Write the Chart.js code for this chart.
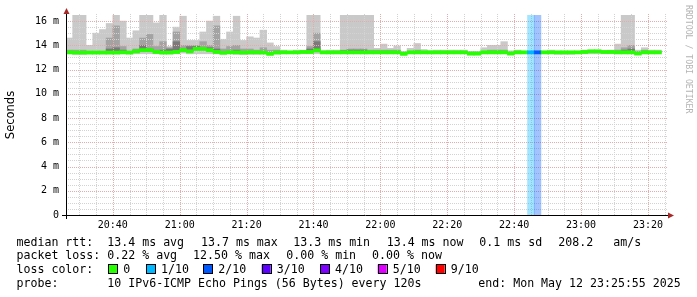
<!DOCTYPE html>
<html><head><meta charset="utf-8">
<script src="https://cdn.jsdelivr.net/npm/chart.js@4.4.1/dist/chart.umd.min.js"></script>
<style>html,body{margin:0;padding:0;background:#fff;overflow:hidden}canvas{display:block}</style>
</head><body>
<canvas id="c" width="697" height="297"></canvas>
<script>
// ---- data (milliseconds, one value per 2-minute step starting 20:26) ----
const startHour = 20, startMinute = 26, stepMinutes = 2, spanMinutes = 180;
const yMax = 16.5;

const maxRtt = [14.6,16.5,16.5,14.0,15.0,15.3,15.8,16.5,16.0,14.6,
 15.2,16.5,16.5,15.85,16.5,13.9,15.5,16.4,14.4,14.4,
 15.1,16.0,16.4,14.5,15.1,16.4,14.4,14.7,14.6,15.25,
 14.2,13.9,13.6,13.5,13.6,13.55,16.5,16.5,13.55,13.6,
 13.6,16.5,16.5,16.5,16.5,16.5,13.75,14.1,13.75,13.95,
 13.5,13.75,14.15,13.65,13.55,13.6,13.6,13.6,13.6,13.6,
 13.5,13.5,13.8,14.0,14.0,14.3,13.55,13.6,13.5,13.5,
 13.5,13.5,13.6,13.5,13.5,13.5,13.5,13.6,13.6,13.6,
 13.5,13.6,14.1,16.5,16.5,13.6,13.8,13.6,13.6];

const midRtt = [13.6,13.6,13.6,13.5,13.5,13.5,14.6,15.6,13.9,13.5,
 13.7,14.6,14.9,13.9,14.3,13.8,15.1,14.0,14.0,14.0,
 14.3,14.0,15.6,13.7,13.9,14.0,13.7,13.7,13.6,13.8,
 13.6,13.6,13.5,13.5,13.5,13.5,13.9,15.0,13.5,13.5,
 13.5,13.6,13.7,13.7,13.7,13.6,13.6,13.6,13.6,13.6,
 13.45,13.5,13.6,13.5,13.5,13.5,13.5,13.5,13.5,13.5,
 13.45,13.45,13.5,13.6,13.6,13.6,13.45,13.5,13.5,13.45,
 13.45,13.5,13.5,13.5,13.5,13.5,13.5,13.5,13.5,13.5,
 13.5,13.5,13.6,13.8,14.0,13.5,13.6,13.5,13.5];

const darkRtt = [null,null,null,null,null,null,13.7,13.8,13.6,null,
 13.6,14.0,13.7,null,13.6,13.7,14.3,13.7,13.9,13.9,
 13.8,13.8,13.7,null,null,13.6,null,null,null,null,
 null,null,null,null,null,null,13.7,14.3,null,null,
 null,13.55,13.6,13.6,13.6,null,null,null,null,null,
 null,null,null,null,null,null,null,null,null,null,
 null,null,null,null,null,null,null,null,null,null,
 null,null,null,null,null,null,null,null,null,null,
 null,null,null,13.6,13.7,null,null,null,null];

const minRtt = [13.3,13.25,13.25,13.3,13.3,13.3,13.3,13.3,13.3,13.3,
 13.3,13.3,13.3,13.3,13.3,13.3,13.3,13.35,13.3,13.3,
 13.3,13.3,13.3,13.3,13.3,13.25,13.25,13.25,13.25,13.3,
 13.2,13.3,13.3,13.3,13.3,13.3,13.3,13.3,13.3,13.3,
 13.3,13.3,13.3,13.3,13.3,13.3,13.3,13.3,13.3,13.3,
 13.2,13.3,13.3,13.3,13.3,13.3,13.3,13.3,13.3,13.3,
 13.2,13.2,13.3,13.3,13.3,13.3,13.2,13.3,13.3,13.3,
 13.3,13.3,13.3,13.25,13.25,13.25,13.3,13.3,13.3,13.3,
 13.3,13.3,13.3,13.3,13.3,13.2,13.3,13.3,13.3];

const medianRtt = [13.42,13.4,13.4,13.4,13.4,13.4,13.4,13.4,13.42,13.4,
 13.5,13.6,13.6,13.45,13.4,13.4,13.45,13.6,13.5,13.7,
 13.7,13.6,13.45,13.38,13.42,13.42,13.4,13.42,13.42,13.4,
 13.3,13.4,13.42,13.42,13.42,13.45,13.45,13.58,13.42,13.42,
 13.42,13.42,13.42,13.42,13.42,13.42,13.42,13.42,13.42,13.42,
 13.3,13.42,13.42,13.42,13.42,13.42,13.42,13.42,13.42,13.42,
 13.32,13.32,13.42,13.42,13.42,13.42,13.33,13.42,13.42,13.42,
 13.42,13.42,13.42,13.42,13.42,13.42,13.42,13.45,13.5,13.5,
 13.45,13.45,13.42,13.42,13.42,13.33,13.42,13.42,13.42];

const lossTenths = [0,0,0,0,0,0,0,0,0,0, 0,0,0,0,0,0,0,0,0,0,
 0,0,0,0,0,0,0,0,0,0, 0,0,0,0,0,0,0,0,0,0,
 0,0,0,0,0,0,0,0,0,0, 0,0,0,0,0,0,0,0,0,0,
 0,0,0,0,0,0,0,0,0,1, 2,0,0,0,0,0,0,0,0,0,
 0,0,0,0,0,0,0,0,0];

const lossLevels = [0,1,2,3,4,5,9];
const lossLabels = ['0','1/10','2/10','3/10','4/10','5/10','9/10'];
const lossColors = ['#26ff00','#00b8ff','#0059ff','#5e00ff','#7e00ff','#dd00ff','#ff0000'];

const yTickValues = [0,0.5,1,1.5,2,2.5,3,3.5,4,4.5,5,5.5,6,6.5,7,7.5,8,8.5,9,9.5,10,10.5,11,11.5,12,12.5,13,13.5,14,14.5,15,15.5,16];
const yTickLabels = ['0','2 m','4 m','6 m','8 m','10 m','12 m','14 m','16 m'];
const xTickLabels = ['20:40','21:00','21:20','21:40','22:00','22:20','22:40','23:00','23:20'];

const rttStats = ['13.4 ms avg','13.7 ms max','13.3 ms min','13.4 ms now','0.1 ms sd','208.2','am/s'];
const lossStats = ['0.22 % avg','12.50 % max','0.00 % min','0.00 % now'];
const probeText = '10 IPv6-ICMP Echo Pings (56 Bytes) every 120s';
const endText = 'end: Mon May 12 23:25:55 2025';

// ---- helpers ----
const stepCenter = i => i * stepMinutes + stepMinutes / 2;
function lossColor(l) {
  let c = lossColors[0];
  lossLevels.forEach((lv, j) => { if (l >= lv) c = lossColors[j]; });
  return c;
}
function hexA(hex, a) {
  const n = parseInt(hex.slice(1), 16);
  return `rgba(${n >> 16},${(n >> 8) & 255},${n & 255},${a})`;
}
function clock(m) {
  const t = startHour * 60 + startMinute + m;
  const h = Math.floor(t / 60) % 24, mm = t % 60;
  return String(h).padStart(2, '0') + ':' + String(mm).padStart(2, '0');
}

const barCommon = { grouped: false, barPercentage: 1, categoryPercentage: 1, borderWidth: 0, borderSkipped: false };

const datasets = [
  Object.assign({ label: 'loss', order: 0,
    data: lossTenths.map((l, i) => ({ x: stepCenter(i), y: l > 0 ? [0, yMax] : null })),
    backgroundColor: lossTenths.map(l => hexA(lossColor(l), 0.36)) }, barCommon),
  Object.assign({ label: 'smoke', order: 4,
    data: maxRtt.map((v, i) => ({ x: stepCenter(i), y: [minRtt[i], v] })),
    backgroundColor: '#c9c9c9' }, barCommon),
  Object.assign({ label: 'smoke2', order: 3,
    data: midRtt.map((v, i) => ({ x: stepCenter(i), y: [medianRtt[i], v] })),
    backgroundColor: '#a3a3a3' }, barCommon),
  Object.assign({ label: 'smoke3', order: 2,
    data: darkRtt.map((v, i) => ({ x: stepCenter(i), y: v === null ? null : [medianRtt[i], v] })),
    backgroundColor: '#7a7a7a' }, barCommon),
  Object.assign({ label: 'median', order: 1,
    data: medianRtt.map((v, i) => ({ x: stepCenter(i), y: [v - 0.13, v + 0.13] })),
    backgroundColor: lossTenths.map(l => lossColor(l)) }, barCommon)
];

const MAJOR = '#e8abab', MINOR = '#d3d3d3';

// dotted grid, drawn over the smoke but under the median line and loss columns
const dottedGrid = {
  id: 'dottedGrid',
  beforeDatasetDraw(chart, args) {
    if (chart.data.datasets[args.index].label !== 'median') return;
    const { ctx, chartArea: a, scales: { x, y } } = chart;
    ctx.save();
    ctx.lineWidth = 1;
    ctx.setLineDash([1, 1]);
    x.ticks.forEach(t => {
      const px = Math.round(x.getPixelForValue(t.value)) + 0.5;
      ctx.strokeStyle = xTickLabels.includes(clock(t.value)) ? MAJOR : MINOR;
      ctx.beginPath(); ctx.moveTo(px, a.bottom); ctx.lineTo(px, a.top - 2); ctx.stroke();
    });
    y.ticks.forEach(t => {
      if (t.value === 0) return;
      const py = Math.round(y.getPixelForValue(t.value)) + 0.5;
      ctx.strokeStyle = (t.value % 2 === 0) ? MAJOR : MINOR;
      ctx.beginPath(); ctx.moveTo(a.left, py); ctx.lineTo(a.right, py); ctx.stroke();
    });
    ctx.restore();
  }
};

const decor = {
  id: 'decor',
  afterDraw(chart) {
    const { ctx, chartArea: a } = chart;
    ctx.save();
    // axes
    ctx.strokeStyle = '#000'; ctx.lineWidth = 1;
    ctx.beginPath();
    ctx.moveTo(a.left - 4, a.bottom + 0.5); ctx.lineTo(a.right + 1, a.bottom + 0.5);
    ctx.moveTo(a.left + 0.5, a.bottom + 4); ctx.lineTo(a.left + 0.5, a.top - 3);
    ctx.stroke();
    ctx.fillStyle = '#a52a2a';
    ctx.beginPath();
    ctx.moveTo(a.right + 6, a.bottom + 0.5); ctx.lineTo(a.right, a.bottom - 2.5); ctx.lineTo(a.right, a.bottom + 3.5); ctx.closePath(); ctx.fill();
    ctx.beginPath();
    ctx.moveTo(a.left + 0.5, a.top - 7); ctx.lineTo(a.left - 2.5, a.top - 1); ctx.lineTo(a.left + 3.5, a.top - 1); ctx.closePath(); ctx.fill();

    // watermark
    ctx.save();
    ctx.translate(688, 5);
    ctx.rotate(Math.PI / 2);
    ctx.font = '8.2px "DejaVu Sans Mono"';
    ctx.fillStyle = '#b4b4b4';
    ctx.textBaseline = 'middle';
    ctx.textAlign = 'left';
    ctx.fillText('RRDTOOL / TOBI OETIKER', 0, 0);
    ctx.restore();

    // legend text
    ctx.font = '11.6px "DejaVu Sans Mono"';
    ctx.fillStyle = '#000';
    ctx.textBaseline = 'alphabetic';
    ctx.textAlign = 'left';
    const b1 = 245.5, b2 = 259, b3 = 272.7, b4 = 286.5;
    ctx.fillText('median rtt:', 16.5, b1);
    const rttX = [107.3, 201, 293.3, 386.7, 479.3, 558.3, 613.3];
    rttStats.forEach((t, i) => ctx.fillText(t, rttX[i], b1));
    ctx.fillText('packet loss:', 16.5, b2);
    const lossX = [107.3, 193.1, 286.3, 372.1];
    lossStats.forEach((t, i) => ctx.fillText(t, lossX[i], b2));
    ctx.fillText('loss color:', 16.5, b3);
    const sqX = [108.3, 146, 203.3, 261.7, 320, 377.7, 435.7];
    lossLabels.forEach((t, i) => {
      ctx.fillStyle = lossColors[i];
      ctx.fillRect(sqX[i], 264.5, 9, 9);
      ctx.strokeStyle = '#000'; ctx.lineWidth = 1;
      ctx.strokeRect(Math.round(sqX[i]) + 0.5, 264.5, 9, 9);
      ctx.fillStyle = '#000';
      ctx.fillText(t, sqX[i] + 15, b3);
    });
    ctx.fillText('probe:', 16.5, b4);
    ctx.fillText(probeText, 107.3, b4);
    ctx.fillText(endText, 478.3, b4);
    ctx.restore();
  }
};

new Chart(document.getElementById('c'), {
  type: 'bar',
  data: { datasets },
  plugins: [dottedGrid, decor],
  options: {
    responsive: false, animation: false, devicePixelRatio: 1,
    layout: { padding: { left: 0, right: 29, top: 15, bottom: 62 } },
    plugins: { legend: { display: false }, tooltip: { enabled: false } },
    scales: {
      x: {
        type: 'linear', min: 0, max: spanMinutes, offset: false,
        afterBuildTicks: s => {
          const first = (5 - (startMinute % 5)) % 5;
          const t = [];
          for (let m = first; m < spanMinutes; m += 5) t.push({ value: m });
          s.ticks = t;
        },
        afterFit: s => { s.height = 20; },
        ticks: {
          autoSkip: false, maxRotation: 0, padding: 4, color: '#000',
          font: { family: 'DejaVu Sans Mono', size: 10 },
          callback: v => xTickLabels.includes(clock(v)) ? clock(v) : ''
        },
        grid: { display: false, drawTicks: false, offset: false },
        border: { display: false }
      },
      y: {
        min: 0, max: yMax,
        afterBuildTicks: s => { s.ticks = yTickValues.map(v => ({ value: v })); },
        afterFit: s => { s.width = 66; },
        ticks: {
          autoSkip: false, padding: 7, color: '#000',
          font: { family: 'DejaVu Sans Mono', size: 10 },
          callback: v => (v % 2 === 0) ? yTickLabels[v / 2] : ''
        },
        grid: { display: false, drawTicks: false },
        border: { display: false },
        title: {
          display: true, text: 'Seconds', color: '#000',
          font: { family: 'DejaVu Sans', size: 11.5 },
          padding: { top: 4, bottom: 0 }
        }
      }
    }
  }
});
</script>
</body></html>
